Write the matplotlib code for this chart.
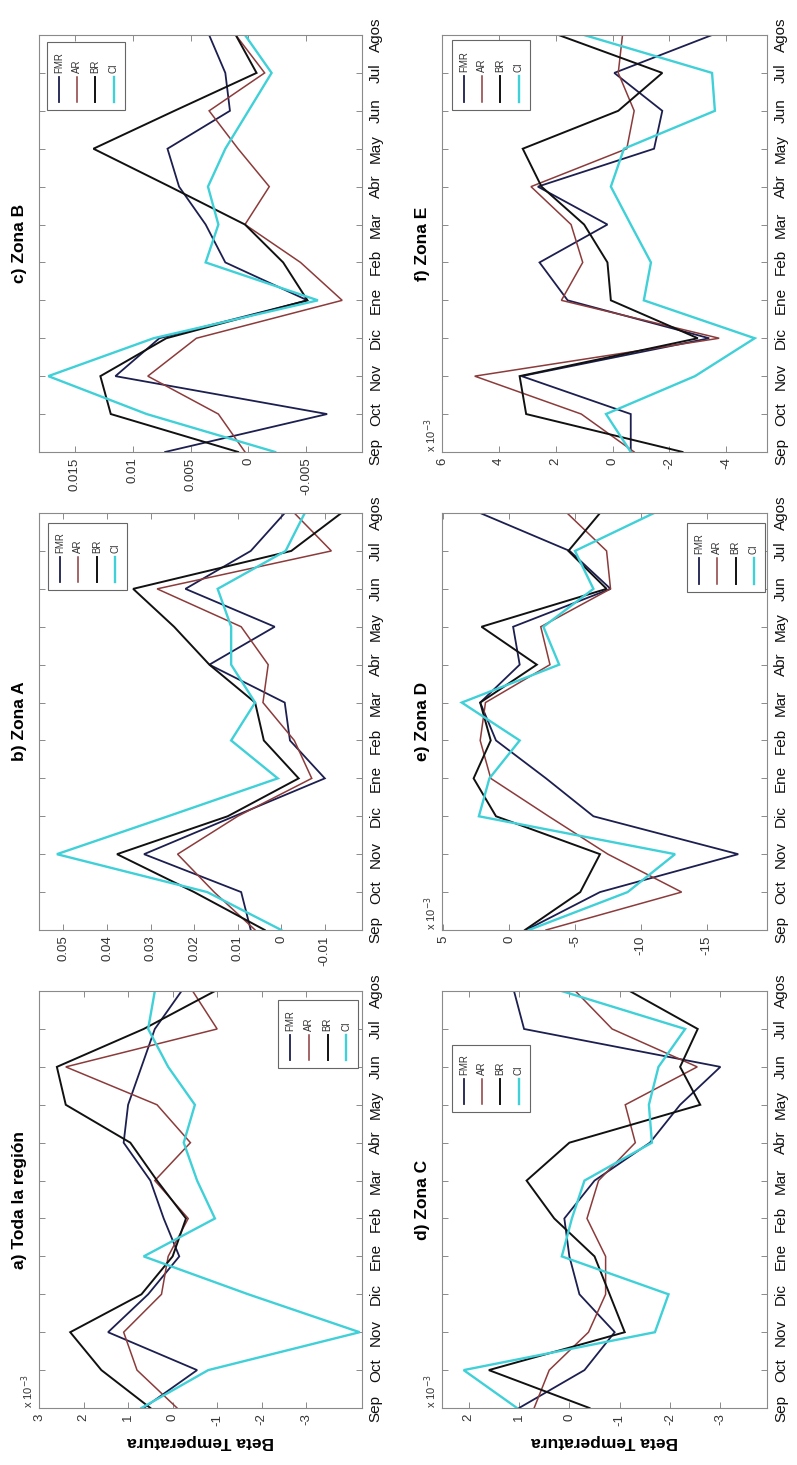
import numpy as np
import matplotlib
matplotlib.use("Agg")
from matplotlib import pyplot as plt
from matplotlib.patches import Rectangle

plt.rcParams['font.family'] = ['Liberation Sans', 'DejaVu Sans']

# months along the (rotated) time axis
months = ['Sep', 'Oct', 'Nov', 'Dic', 'Ene', 'Feb', 'Mar', 'Abr', 'May', 'Jun', 'Jul', 'Agos']
series_names = ['FMR', 'AR', 'BR', 'CI']
titles = ['a) Toda la región', 'b) Zona A', 'c) Zona B', 'd) Zona C', 'e) Zona D', 'f) Zona E']

# values (a, d, e, f are in units of 1e-3)
a_fmr = [0.65, -0.55, 1.45, 0.55, -0.15, 0.2, 0.5, 1.1, 1.0, 0.7, 0.4, -0.2]
a_ar = [-0.1, 0.8, 1.1, 0.25, 0.1, -0.35, 0.4, -0.4, 0.35, 2.4, -1.0, -0.45]
a_br = [0.5, 1.6, 2.3, 0.7, 0.0, -0.3, 0.35, 0.95, 2.4, 2.6, 0.65, -0.95]
a_ci = [0.7, -0.8, -4.2, -1.7, 0.65, -0.95, -0.55, -0.25, -0.5, 0.1, 0.55, 0.4]

b_fmr = [0.007, 0.0092, 0.0315, 0.0108, -0.010, -0.002, -0.0008, 0.0165, 0.0015, 0.022, 0.007, -0.0008]
b_ar = [0.006, 0.0154, 0.0238, 0.010, -0.007, -0.003, 0.0042, 0.003, 0.0092, 0.0285, -0.0115, -0.003]
b_br = [0.0038, 0.020, 0.0377, 0.0123, -0.004, 0.004, 0.006, 0.0165, 0.0246, 0.034, -0.0023, -0.0138]
b_ci = [0.0, 0.017, 0.0515, 0.026, 0.0008, 0.0115, 0.006, 0.0115, 0.0115, 0.0146, -0.001, -0.0054]

c_fmr = [0.0072, -0.0068, 0.0115, 0.0077, -0.0051, 0.002, 0.0037, 0.006, 0.007, 0.0016, 0.002, 0.0034]
c_ar = [0.0003, 0.0026, 0.0087, 0.0045, -0.0081, -0.0045, 0.0003, -0.0018, 0.0009, 0.0034, -0.0014, 0.0011]
c_br = [0.0009, 0.0119, 0.0128, 0.0071, -0.0051, -0.003, 0.0003, 0.0068, 0.0134, 0.0064, -0.0007, 0.0011]
c_ci = [-0.0023, 0.0088, 0.0173, 0.0082, -0.006, 0.0037, 0.0026, 0.0035, 0.002, 0.0, -0.002, 0.0003]

d_fmr = [1.0, -0.3, -0.9, -0.2, 0.0, 0.1, -0.5, -1.6, -2.2, -3.0, 0.9, 1.1]
d_ar = [0.7, 0.4, -0.38, -0.72, -0.72, -0.35, -0.58, -1.31, -1.11, -2.54, -0.85, -0.12]
d_br = [-0.4, 1.6, -1.1, -0.8, -0.5, 0.3, 0.85, 0.0, -2.6, -2.2, -2.55, -1.2]
d_ci = [1.04, 2.1, -1.7, -1.97, 0.15, -0.05, -0.3, -1.64, -1.58, -1.77, -2.3, 0.15]

e_fmr = [-1.3, -6.9, -17.4, -6.4, -2.8, 1.0, 2.2, -0.8, -0.3, -7.7, -4.6, 2.2]
e_ar = [-2.8, -13.1, -7.5, -3.0, 1.4, 2.2, 1.8, -3.1, -2.4, -7.7, -7.4, -4.4]
e_br = [-1.2, -5.4, -6.9, 1.0, 2.7, 1.4, 2.2, -2.1, 2.1, -7.4, -4.5, -6.9]
e_ci = [-1.5, -9.0, -12.6, 2.3, 1.5, -0.8, 3.6, -3.8, -2.6, -6.4, -5.0, -11.0]

f_fmr = [-0.64, -0.64, 3.2, -3.4, 1.58, 2.57, 0.18, 2.63, -1.46, -1.75, -0.06, -3.5]
f_ar = [-0.76, 1.1, 4.85, -3.75, 1.8, 1.05, 1.46, 2.87, -0.5, -0.76, -0.2, -0.35]
f_br = [-2.46, 3.04, 3.27, -3.0, 0.06, 0.18, 1.0, 2.5, 3.16, -0.2, -1.75, 1.9]
f_ci = [-0.64, 0.23, -2.9, -5.0, -1.1, -1.35, -0.64, 0.06, -0.4, -3.6, -3.5, 1.0]

panel_data = [
    [a_fmr, a_ar, a_br, a_ci],
    [b_fmr, b_ar, b_br, b_ci],
    [c_fmr, c_ar, c_br, c_ci],
    [d_fmr, d_ar, d_br, d_ci],
    [e_fmr, e_ar, e_br, e_ci],
    [f_fmr, f_ar, f_br, f_ci],
]
value_ticks = [
    [3, 2, 1, 0, -1, -2, -3],
    [0.05, 0.04, 0.03, 0.02, 0.01, 0, -0.01],
    [0.015, 0.01, 0.005, 0, -0.005],
    [2, 1, 0, -1, -2, -3],
    [5, 0, -5, -10, -15],
    [6, 4, 2, 0, -2, -4],
]
value_ticklabels = [
    ['3', '2', '1', '0', '-1', '-2', '-3'],
    ['0.05', '0.04', '0.03', '0.02', '0.01', '0', '-0.01'],
    ['0.015', '0.01', '0.005', '0', '-0.005'],
    ['2', '1', '0', '-1', '-2', '-3'],
    ['5', '0', '-5', '-10', '-15'],
    ['6', '4', '2', '0', '-2', '-4'],
]
value_limits = [(-4.25, 3.0), (-0.0185, 0.0556), (-0.0098, 0.0181),
                (-3.93, 2.53), (-19.6, 5.1), (-5.44, 6.0)]
scaled = [True, False, False, True, True, True]

colors = ['#1c1f4f', '#8c3b3b', '#111111', '#3fd0d8']
widths = [1.3, 1.1, 1.4, 1.7]

# panel boxes (left, bottom, width, height) in figure fractions; the page is turned
# so the original rows are the columns here
boxes = [
    (0.049, 0.0389, 0.405, 0.2846),  # a
    (0.049, 0.3652, 0.405, 0.2846),  # b
    (0.049, 0.6915, 0.405, 0.2846),  # c
    (0.5546, 0.0389, 0.408, 0.2846),  # d
    (0.5546, 0.3652, 0.408, 0.2846),  # e
    (0.5546, 0.6915, 0.408, 0.2846),  # f
]
# legend box in axes fractions (x0, x1, y0, y1)
legend_boxes = [
    (0.74, 0.988, 0.815, 0.978),
    (0.028, 0.272, 0.815, 0.976),
    (0.025, 0.266, 0.820, 0.983),
    (0.031, 0.271, 0.710, 0.870),
    (0.754, 0.994, 0.811, 0.976),
    (0.031, 0.271, 0.820, 0.988),
]

fig = plt.figure(figsize=(7.97, 14.65), dpi=100)
mpos = np.arange(len(months))

for i in range(6):
    ax = fig.add_axes(boxes[i])
    for s in range(4):
        vals = np.array(panel_data[i][s])
        ax.plot(vals, mpos, color=colors[s], lw=widths[s], solid_joinstyle='miter')
    lo, hi = value_limits[i]
    ax.set_xlim(hi, lo)
    ax.set_ylim(0, len(months) - 1)
    ax.set_xticks(value_ticks[i])
    ax.set_xticklabels(value_ticklabels[i], rotation=90, fontsize=9.5, color='#333333')
    ax.set_yticks(mpos)
    ax.yaxis.tick_right()
    ax.set_yticklabels(months, rotation=90, va='center', fontsize=11, color='#111111')
    ax.tick_params(direction='in', length=4, width=0.6, color='#777777',
                   top=True, bottom=True, left=True, right=True, pad=4)
    ax.tick_params(axis='y', pad=5)
    for sp in ax.spines.values():
        sp.set_color('#8a8a8a')
        sp.set_linewidth(0.8)

    ax.text(-0.06, 0.5, titles[i], rotation=90, ha='center', va='center',
            fontsize=12.5, fontweight='bold', transform=ax.transAxes)
    if scaled[i]:
        ax.text(-0.008, 0.0, r'x 10$^{-3}$', rotation=90, ha='right', va='bottom',
                fontsize=8, color='#333333', transform=ax.transAxes)
    if i in (0, 3):
        ax.set_xlabel('Beta Temperatura', rotation=180, fontsize=12.5,
                      fontweight='bold', labelpad=6)

    # hand-made legend, turned with the page
    x0, x1, y0, y1 = legend_boxes[i]
    ax.add_patch(Rectangle((x0, y0), x1 - x0, y1 - y0, transform=ax.transAxes,
                           facecolor='white', edgecolor='#666666', lw=0.8, zorder=5))
    for s in range(4):
        xs = x0 + (x1 - x0) * (0.15 + 0.235 * s)
        h = y1 - y0
        ax.plot([xs, xs], [y0 + 0.12 * h, y0 + 0.49 * h], color=colors[s],
                lw=widths[s], transform=ax.transAxes, zorder=6)
        ax.text(xs, y0 + 0.55 * h, series_names[s], rotation=90, ha='center',
                va='bottom', fontsize=7, color='#333333', transform=ax.transAxes, zorder=6)

fig.savefig('out.png', dpi=100, facecolor='white')
